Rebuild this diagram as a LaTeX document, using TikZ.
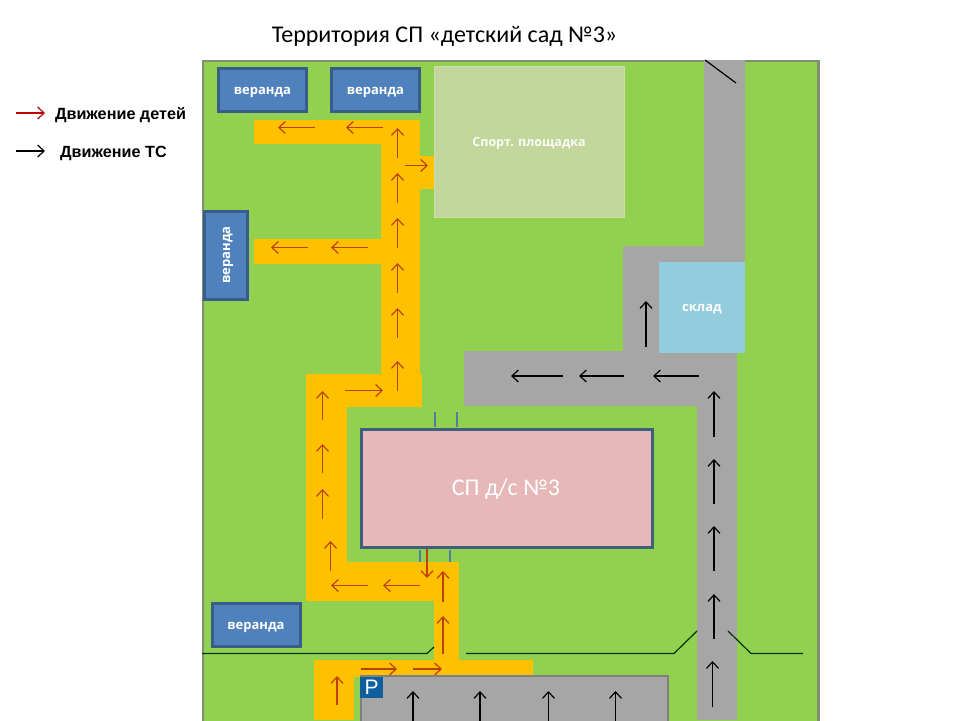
\documentclass[tikz,border=0pt]{standalone}
\usepackage{fontspec}
\setmainfont{Carlito}
\newfontfamily\lab{Open Sans}
\newfontfamily\leg{Liberation Sans}
\usetikzlibrary{arrows.meta}
\definecolor{lawn}{HTML}{92D050}
\definecolor{frameC}{HTML}{7F8F70}
\definecolor{road}{HTML}{A6A6A6}
\definecolor{roadB}{HTML}{7F7F7F}
\definecolor{walk}{HTML}{FFC000}
\definecolor{verFill}{HTML}{4F81BD}
\definecolor{verLine}{HTML}{385D8A}
\definecolor{sportC}{HTML}{C3D69B}
\definecolor{sportL}{HTML}{CDDDAC}
\definecolor{skladC}{HTML}{93CDDD}
\definecolor{bldC}{HTML}{E6B9B8}
\definecolor{bldL}{HTML}{3F5F7F}
\definecolor{redA}{HTML}{C0400A}
\definecolor{pBlue}{HTML}{0F5F9F}
\definecolor{doorC}{HTML}{4F7F9F}
\tikzset{
  veranda/.style={draw=verLine,line width=3pt,fill=verFill,inner sep=0pt},
  kid/.style={draw=redA,line width=1.2pt,-{Straight Barb[length=6.5pt,width=12pt,line width=1.2pt]}},
  car/.style={draw=black,line width=1.2pt,-{Straight Barb[length=6.5pt,width=12pt,line width=1.2pt]}},
  fence/.style={draw=black!80!green,line width=1.2pt},
  door/.style={draw=doorC,line width=1.2pt},
  whitelab/.style={text=white,inner sep=0pt,font=\lab\bfseries\fontsize{13}{14}\selectfont}
}
\begin{document}
\begin{tikzpicture}[x=1pt,y=-1pt]
\useasboundingbox (0,0) rectangle (960,720);
\clip (0,0) rectangle (960,720);
\fill[white] (0,0) rectangle (960,720);
% territory
\draw[draw=frameC,line width=2.8pt,fill=lawn] (203,61) rectangle (818.5,722);
% roads
\fill[road] (704,59.5) rectangle (745,262);
\fill[road] (623,246) rectangle (745,262);
\fill[road] (623,246) rectangle (704,352);
\fill[road] (464,351) rectangle (737,406);
\fill[road] (697,351) rectangle (737,720);
% walkways
\fill[walk] (254,120) rectangle (420,144);
\fill[walk] (381,120) rectangle (420,380);
\fill[walk] (420,156) rectangle (436,189);
\fill[walk] (254,239) rectangle (381,264);
\fill[walk] (306,374) rectangle (422,407);
\fill[walk] (306,374) rectangle (347,601);
\fill[walk] (306,562) rectangle (459,601);
\fill[walk] (434,562) rectangle (459,660);
\fill[walk] (314,660) rectangle (533,677);
\fill[walk] (314,660) rectangle (354,720);
% parking
\draw[draw=roadB,line width=2.8pt,fill=road] (361,676) rectangle (668,723);
\node[fill=pBlue,text=white,minimum width=23pt,minimum height=21pt,inner sep=0pt,font=\leg\fontsize{21}{21}\selectfont] (parkSign) at (371.5,687) {P};
% plots
\node[fill=sportC,draw=sportL,line width=1pt,minimum width=190pt,minimum height=151pt,inner sep=0pt] (sport) at (529.5,142) {};
\node[whitelab,text=white!92!sportC,font=\lab\bfseries\fontsize{12.5}{14}\selectfont] (sportT) at (529,143.5) {Спорт. площадка};
\node[fill=skladC,minimum width=86pt,minimum height=91pt,inner sep=0pt] (sklad) at (702,307) {};
\node[whitelab] (skladT) at (702,309) {склад};
% verandas
\node[veranda,minimum width=88pt,minimum height=43pt] (v1) at (262.5,90) {};
\node[whitelab] (v1T) at (262.5,92) {веранда};
\node[veranda,minimum width=88pt,minimum height=43pt] (v2) at (375.5,90) {};
\node[whitelab] (v2T) at (375.5,92) {веранда};
\node[veranda,minimum width=43pt,minimum height=88pt] (v3) at (225.5,255.5) {};
\node[whitelab,rotate=90] (v3T) at (228,255) {веранда};
\node[veranda,minimum width=88pt,minimum height=43pt] (v4) at (256.5,625) {};
\node[whitelab] (v4T) at (256,627) {веранда};
% building
\node[fill=bldC,draw=bldL,line width=3pt,minimum width=291pt,minimum height=118pt,inner sep=0pt] (bld) at (507,488.5) {};
\node[text=white,inner sep=0pt,font=\fontsize{24}{26}\selectfont] (bldT) at (506,489.5) {СП д/с №3};
\draw[door] (435,412) -- (435,427);
\draw[door] (457,412) -- (457,427);
\draw[door] (420,550) -- (420,562);
\draw[door] (450,550) -- (450,562);
% fences
\draw[fence] (202,653.5) -- (427,653.5) -- (434,647);
\draw[fence] (466,653.5) -- (674,653.5) -- (697,631);
\draw[fence] (728,631) -- (751,653.5) -- (803,653.5);
\draw[draw=black,line width=1.2pt] (705,60) -- (736,83);
% child arrows
\foreach \a/\b/\c/\d in {315/127.5/278/127.5,383/127.5/346/127.5,308/247.5/271/247.5,368/247.5/331/247.5,
  397.5/158/397.5/128,397.5/203/397.5/173,397.5/248/397.5/218,397.5/293/397.5/263,397.5/338/397.5/308,397.5/391/397.5/361,
  405/165.5/428/165.5,345/390.5/383/390.5,322.5/420/322.5/391,322.5/473/322.5/444,322.5/519/322.5/489,330.5/571/330.5/541,
  368/585.5/331/585.5,420/585.5/383/585.5,427/549/427/578,443/602/443/571,443/654/443/616,
  361/669/397/669,413/669/442/669,337/705/337/676}
  \draw[kid] (\a,\b) -- (\c,\d);
% vehicle arrows
\foreach \a/\b/\c/\d in {714/437/714/391,714/504/714/459,714/571/714/526,714/639/714/594,712.5/707/712.5/661,
  563/376/511/376,624/376/579/376,699/376/653/376,646/347/646/301,
  413/722/413/691,480/722/480/691,548.5/722/548.5/691,615.5/722/615.5/691}
  \draw[car] (\a,\b) -- (\c,\d);
% title and legend
\node[inner sep=0pt,font=\fontsize{24}{26}\selectfont] (title) at (444.5,36.5) {Территория СП «детский сад №3»};
\coordinate (lr1) at (16,113); \coordinate (lr2) at (45,113);
\coordinate (lb1) at (16,151); \coordinate (lb2) at (45,151);
\draw[kid,draw=red!75!black] (lr1) -- (lr2);
\draw[car] (lb1) -- (lb2);
\node[inner sep=0pt,font=\leg\bfseries\fontsize{16.2}{18}\selectfont] (legKid) at (120.5,115) {Движение детей};
\node[inner sep=0pt,font=\leg\bfseries\fontsize{16.2}{18}\selectfont] (legCar) at (113.5,153) {Движение ТС};
\end{tikzpicture}
\end{document}
